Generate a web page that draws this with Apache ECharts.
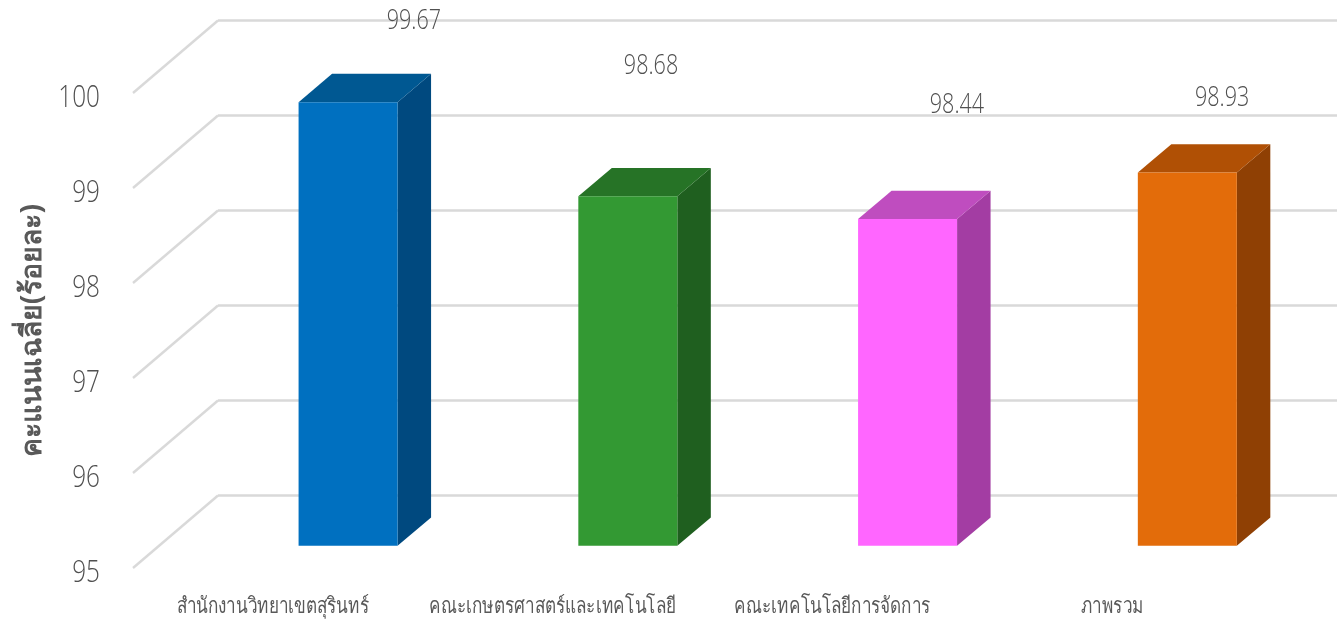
<!DOCTYPE html>
<html><head><meta charset="utf-8">
<style>html,body{margin:0;padding:0;background:#fff}#c{width:1344px;height:623px}</style>
<script src="https://cdn.jsdelivr.net/npm/echarts@6/dist/echarts.min.js"></script>
</head><body><div id="c"></div>
<script>
const categories = ['สำนักงานวิทยาเขตสุรินทร์','คณะเกษตรศาสตร์และเทคโนโลยี','คณะเทคโนโลยีการจัดการ','ภาพรวม'];
const values = [99.67, 98.68, 98.44, 98.93];
const axisTicks = [95, 96, 97, 98, 99, 100];
const axisTitle = 'คะแนนเฉลี่ย(ร้อยละ)';

// layout and style only
const faceColors = ['#0070C0','#339933','#FF66FF','#E36C0A'];
const topColors  = ['#005892','#267326','#BF4DBF','#B05005'];
const sideColors = ['#00497F','#1F5F1F','#A33DA3','#8F4004'];
const labelShift = [[141,-103],[98.4,-152],[124.6,-136],[110,-97]];
const WALL = [85,-72.5], BAR = [75.2,-22.2], DEPTH = [33.5,-28.3], HALF = 49.5;
const NUM = '"Open Sans","Noto Sans",sans-serif';
const THAI = '"Noto Sans",sans-serif';
const INK = '#505050';

const chart = echarts.init(document.getElementById('c'), null, {renderer:'canvas'});

function wallItem(params, api){
  const v = api.value(1);
  const c = api.coord([0, v]), s = api.size([1, 0])[0], x0 = c[0]-s/2, y = c[1];
  const st = {stroke:'#D9D9D9', lineWidth:2.4, fill:null};
  return {type:'group', children:[
    {type:'line', shape:{x1:x0,y1:y,x2:x0+WALL[0],y2:y+WALL[1]}, style:st},
    {type:'line', shape:{x1:x0+WALL[0],y1:y+WALL[1],x2:x0+WALL[0]+s*4,y2:y+WALL[1]}, style:st},
    {type:'text', x:x0-33, y:y+5, scaleX:0.76,
      style:{text:String(v), font:'300 32px '+NUM, fill:INK, align:'right', verticalAlign:'middle'}}
  ]};
}
function barItem(params, api){
  const i = api.value(0), v = api.value(1);
  const top = api.coord([i, v]), base = api.coord([i, axisTicks[0]]);
  const cx = top[0]+BAR[0], yt = top[1]+BAR[1], yb = base[1]+BAR[1];
  const l = cx-HALF, r = cx+HALF, dx = DEPTH[0], dy = DEPTH[1];
  return {type:'group', children:[
    {type:'polygon', shape:{points:[[r,yt],[r+dx,yt+dy],[r+dx,yb+dy],[r,yb]]}, style:{fill:sideColors[i]}},
    {type:'polygon', shape:{points:[[l,yt],[l+dx,yt+dy],[r+dx,yt+dy],[r,yt]]}, style:{fill:topColors[i]}},
    {type:'rect', shape:{x:l,y:yt,width:r-l,height:yb-yt}, style:{fill:faceColors[i]}}
  ]};
}
function labelItem(params, api){
  const i = api.value(0), v = api.value(1);
  const p = api.coord([i, v]), base = api.coord([i, axisTicks[0]]);
  return {type:'group', children:[
    {type:'text', x:p[0]+labelShift[i][0], y:p[1]+labelShift[i][1], scaleX:0.77,
      style:{text:v.toFixed(2), font:'300 28px '+NUM, fill:INK, align:'center', verticalAlign:'middle'}},
    {type:'text', x:base[0], y:base[1]+39, scaleX:0.78,
      style:{text:categories[i], font:'22px '+THAI, fill:'#595959', align:'center', verticalAlign:'middle'}}
  ]};
}

chart.setOption({
  animation:false,
  backgroundColor:'#fff',
  grid:{left:133, width:1119, top:93, height:475, containLabel:false, outerBoundsMode:'none'},
  xAxis:{type:'category', data:categories,
    axisLine:{show:false}, axisTick:{show:false}, axisLabel:{show:false}},
  yAxis:{type:'value', min:axisTicks[0], max:axisTicks[axisTicks.length-1], interval:1,
    name:axisTitle, nameLocation:'middle', nameGap:86, nameRotate:90,
    nameTextStyle:{color:'#595959', fontSize:28.5, fontWeight:'bold', fontFamily:THAI},
    axisLine:{show:false}, axisTick:{show:false}, splitLine:{show:false}, axisLabel:{show:false}},
  series:[
    {type:'custom', coordinateSystem:'cartesian2d', renderItem:wallItem, encode:{x:0,y:1},
      data:axisTicks.map(t=>[0,t]), silent:true, clip:false, z:1},
    {type:'custom', coordinateSystem:'cartesian2d', renderItem:barItem, encode:{x:0,y:1},
      data:values.map((v,i)=>[i,v]), clip:false, z:2},
    {type:'custom', coordinateSystem:'cartesian2d', renderItem:labelItem, encode:{x:0,y:1},
      data:values.map((v,i)=>[i,v]), clip:false, z:3}
  ]
});
</script></body></html>
